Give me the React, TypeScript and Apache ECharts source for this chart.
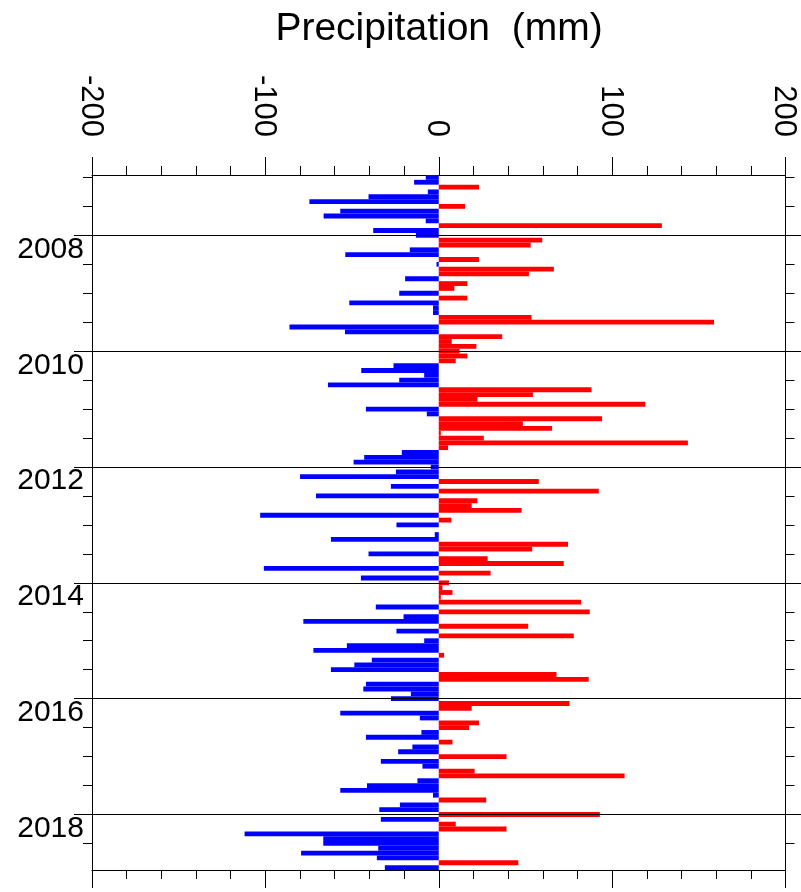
import React, { useEffect, useRef } from 'react';
import * as echarts from 'echarts';

// Monthly precipitation anomalies (mm), Jan..Dec of each year
const years = [2007, 2008, 2009, 2010, 2011, 2012, 2013, 2014, 2015, 2016, 2017, 2018];
const p2007 = [-7.5, -14.2, 23.2, -6.3, -40.5, -74.6, 15.2, -56.8, -66.4, -7.5, 128.7, -37.8];
const p2008 = [-13.2, 59.7, 53, -16.7, -53.9, 23.2, -1.3, 66.4, 52, -19.4, 16.5, 9];
const p2009 = [-22.8, 16.5, -51.6, -3.3, -3.3, 53.5, 158.8, -86.1, -54.1, 36.6, 7.5, 21.7];
const p2010 = [12, 16.5, 9.8, -26.1, -44.7, -8.4, -22.8, -63.9, 88.1, 54.3, 22.3, 119.1];
const p2011 = [-42, -6.9, 94.2, 48.5, 65.4, 1.2, 26, 143.7, 5.4, -21.3, -43, -49.1];
const p2012 = [-4.6, -24.7, -80, 57.7, -27.6, 92.3, -70.8, 22.3, 19, 47.8, -103, 7.3];
const p2013 = [-24.4, 0, -2.3, -62.2, 74.6, 53.9, -40.5, 28.2, 72.1, -100.9, 29.9, -44.9];
const p2014 = [5.9, 2.1, 7.9, 1.2, 82.1, -36.3, 87.1, -20.3, -78.1, 51.6, -24.4, 77.9];
const p2015 = [-8.4, -53, -72.3, 3.1, -38.6, -48.7, -62.2, 67.9, 86.5, -42, -43.5, -16.1];
const p2016 = [-27.6, 75.4, 19, -56.8, -10.9, 23.2, 17.5, -10, -42, 7.9, -15.2, -23.4];
const p2017 = [39.1, -33.4, -9.4, 20.7, 107.2, -12.3, -41.4, -56.8, -3.3, 27.4, -22.4, -34.3];
const p2018 = [92.9, -33.4, 9.8, 39.1, -112, -66.6, -66.6, -34.9, -79.4, -35.7, 45.9, -31.1];

const values = [...p2007, ...p2008, ...p2009, ...p2010, ...p2011, ...p2012, ...p2013, ...p2014, ...p2015, ...p2016, ...p2017, ...p2018];
const months = years.flatMap((y) => Array.from({ length: 12 }, (_, m) => `${y}-${String(m + 1).padStart(2, '0')}`));
const labeledYears = ['2008', '2010', '2012', '2014', '2016', '2018'];
const xMin = -200;
const xMax = 200;
const xStep = 100;
const titleText = 'Precipitation  (mm)';

const FONT = '"Liberation Sans", Arial, Helvetica, sans-serif';

export default function App() {
  const ref = useRef<HTMLDivElement>(null);
  useEffect(() => {
    if (!ref.current) return;
    const chart = echarts.init(ref.current, null, { renderer: 'svg' });
    const lineStyle = { color: '#000', width: 1 };
    const isMajor = (i: number) => i % 24 === 12;
    const isMinor = (i: number) => i % 6 === 0;
    const baseY = { type: 'category', data: months, inverse: true, boundaryGap: true, splitLine: { show: false } };
    const minorAxis = (pos: string) => ({
      ...baseY,
      position: pos,
      axisLine: { show: true, onZero: false, lineStyle },
      axisTick: { show: true, alignWithLabel: true, interval: (i: number) => isMinor(i), length: 9, lineStyle },
      axisLabel: { show: false },
    });
    const majorAxis = (pos: string, labels: boolean) => ({
      ...baseY,
      position: pos,
      axisLine: { show: false, onZero: false },
      axisTick: { show: true, alignWithLabel: true, interval: (i: number) => isMajor(i), length: 18, lineStyle },
      axisLabel: {
        show: labels,
        interval: (i: number) => isMajor(i),
        formatter: (v: string) => v.slice(0, 4),
        fontSize: 30,
        fontFamily: FONT,
        color: '#000',
        margin: 8,
        verticalAlign: 'top',
        lineHeight: 24,
      },
    });
    const xBase = (pos: string, labels: boolean) => ({
      type: 'value',
      position: pos,
      min: xMin,
      max: xMax,
      interval: xStep,
      axisLine: { show: true, onZero: false, lineStyle },
      axisTick: { show: true, length: 18, lineStyle },
      minorTick: { show: true, splitNumber: 5, length: 9, lineStyle },
      splitLine: { show: false },
      minorSplitLine: { show: false },
      axisLabel: {
        show: labels,
        rotate: 90,
        fontSize: 31,
        lineHeight: 25,
        fontFamily: FONT,
        color: '#000',
        margin: 38,
      },
    });
    chart.setOption({
      animation: false,
      grid: { left: 92, right: 13, top: 175, bottom: 22 },
      graphic: [
        {
          type: 'text',
          x: 439,
          y: 26,
          style: {
            text: titleText,
            fontSize: 39,
            fontFamily: FONT,
            fill: '#000',
            align: 'center',
            verticalAlign: 'middle',
          },
        },
      ],
      xAxis: [xBase('top', true), xBase('bottom', false)],
      yAxis: [minorAxis('left'), majorAxis('left', true), minorAxis('right'), majorAxis('right', false)],
      series: [
        {
          type: 'bar',
          xAxisIndex: 0,
          yAxisIndex: 0,
          data: values,
          barCategoryGap: '0%',
          itemStyle: {
            color: (p: any) => (p.value < 0 ? '#0000ff' : '#ff0000'),
          },
          markLine: {
            silent: true,
            symbol: 'none',
            label: { show: false },
            lineStyle: { color: '#000', width: 1.2, type: 'solid' },
            data: labeledYears.map((y) => ({ yAxis: `${y}-01` })),
          },
        },
      ],
    });
    return () => chart.dispose();
  }, []);
  return <div ref={ref} style={{ position: 'fixed', left: 0, top: 0, width: 801, height: 892 }} />;
}
